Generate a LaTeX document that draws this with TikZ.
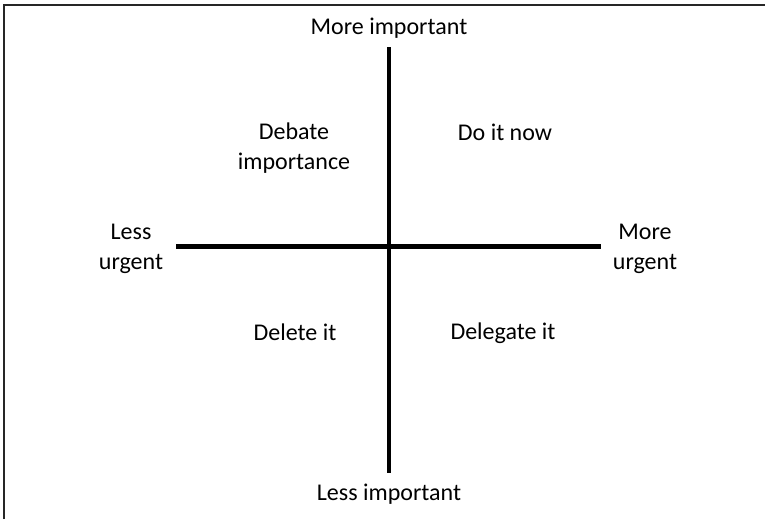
\documentclass[tikz,border=0pt]{standalone}
\usepackage{fontspec}
\setmainfont{Carlito}
\usepackage{tikz}
\usetikzlibrary{positioning}

\tikzset{
  lbl/.style={align=center, font=\fontsize{18}{22.5}\selectfont, inner sep=0pt},
  axis/.style={line width=3.4pt, black},
  frame/.style={line width=1.5pt, black!85}
}

\begin{document}
\begin{tikzpicture}[x=0.75pt,y=-0.75pt]
\useasboundingbox (0,0) rectangle (765,519);
% frame
\draw[frame] (4,519)--(4,5)--(765,5);
% axes
\coordinate (top) at (389,47);
\coordinate (bot) at (389,473);
\coordinate (lft) at (176,246.5);
\coordinate (rgt) at (601,246.5);
\draw[axis] (top)--(bot);
\draw[axis] (lft)--(rgt);
% axis labels
\node[lbl] (moreimp) at (389,28) {More important};
\node[lbl] (lessimp) at (389,494) {Less important};
\node[lbl] (lessurg) at (131,249) {Less\\urgent};
\node[lbl] (moreurg) at (645,249) {More\\urgent};
% quadrants
\node[lbl] (debate) at (294,148.5) {Debate\\importance};
\node[lbl] (doit) at (505,132) {Do it now};
\node[lbl] (delete) at (295,332) {Delete it};
\node[lbl] (delegate) at (503,333) {Delegate it};
\end{tikzpicture}
\end{document}
